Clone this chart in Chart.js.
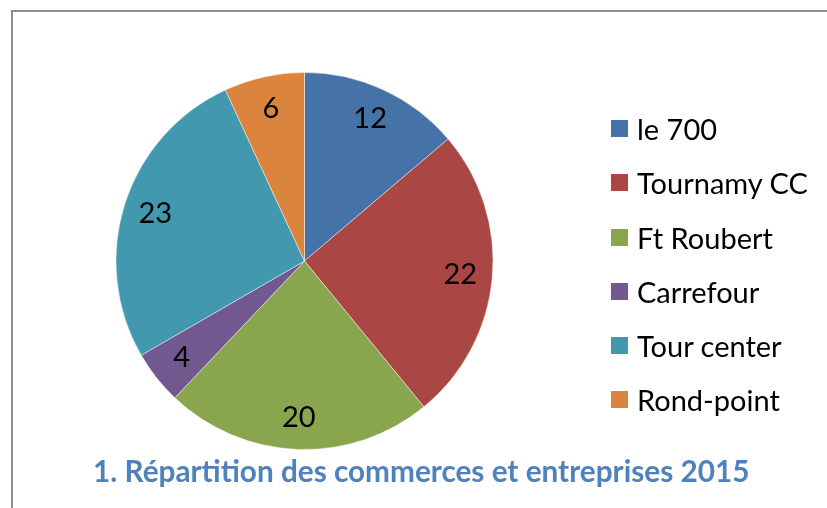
<!DOCTYPE html>
<html>
<head>
<meta charset="utf-8">
<script src="https://cdn.jsdelivr.net/npm/chart.js@4.4.1/dist/chart.umd.min.js"></script>
<style>
    html, body { margin: 0; padding: 0; background: #fff; }
    body { width: 827px; height: 508px; position: relative; overflow: hidden; }
    #frame {
        position: absolute; left: 11px; top: 10px; width: 900px; height: 600px;
        border: 2px solid #8e8e8e; box-sizing: border-box;
    }
    #chart { position: absolute; left: 0; top: 0; }
    #legend { position: absolute; left: 611px; top: 0; font-family: Lato, sans-serif; font-size: 29px; color: #000; }
    .legend-item { position: absolute; left: 0; white-space: nowrap; display: flex; align-items: center; height: 30px; }
    .legend-box { width: 17px; height: 17px; margin-right: 9px; }
    #title {
        position: absolute; left: 421px; top: 455px; white-space: nowrap; line-height: 30px;
        font-family: Lato, sans-serif; font-weight: bold; font-size: 30px; color: #4f81bd;
        transform-origin: 0 0;
    }
</style>
</head>
<body>
<div id="frame"></div>
<canvas id="chart" width="827" height="508"></canvas>
<div id="legend"></div>
<div id="title">1. Répartition des commerces et entreprises 2015</div>
<script>
const labels = ['le 700', 'Tournamy CC', 'Ft Roubert', 'Carrefour', 'Tour center', 'Rond-point'];
const values = [12, 22, 20, 4, 23, 6];
const colors = ['#4572a7', '#aa4643', '#89a54e', '#71588f', '#4198af', '#db843d'];

// draws the value in each slice
const sliceLabels = {
    id: 'sliceLabels',
    afterDatasetsDraw(chart) {
        const ctx = chart.ctx;
        const meta = chart.getDatasetMeta(0);
        ctx.save();
        ctx.font = '29px Lato, sans-serif';
        ctx.fillStyle = '#000';
        ctx.textAlign = 'center';
        ctx.textBaseline = 'middle';
        meta.data.forEach((arc, i) => {
            const mid = (arc.startAngle + arc.endAngle) / 2;
            const r = arc.outerRadius * 0.83;
            ctx.fillText(String(values[i]), arc.x + Math.cos(mid) * r, arc.y + Math.sin(mid) * r);
        });
        ctx.restore();
    }
};

const chart = new Chart(document.getElementById('chart'), {
    type: 'pie',
    data: {
        labels: labels,
        datasets: [{
            data: values,
            backgroundColor: colors,
            borderColor: 'rgba(255,255,255,0.45)',
            borderWidth: 1
        }]
    },
    options: {
        responsive: false,
        animation: false,
        layout: { padding: { left: 113, top: 72, right: 331, bottom: 58 } },
        plugins: {
            legend: { display: false },
            tooltip: { enabled: false }
        }
    },
    plugins: [sliceLabels]
});

const legendDiv = document.getElementById('legend');
const legendItems = chart.options.plugins.legend.labels.generateLabels(chart);
const legendCenters = [128, 182, 237, 291, 345, 399];
legendItems.forEach((item, i) => {
    const row = document.createElement('div');
    row.className = 'legend-item';
    row.style.top = (legendCenters[i] - 15) + 'px';
    const box = document.createElement('span');
    box.className = 'legend-box';
    box.style.background = item.fillStyle;
    const text = document.createElement('span');
    text.textContent = item.text;
    row.appendChild(box);
    row.appendChild(text);
    legendDiv.appendChild(row);
});

// fit the title to the width it has in the original
const title = document.getElementById('title');
const sx = 656 / title.offsetWidth;
title.style.transform = 'translateX(-328px) scaleX(' + sx + ')';
</script>
</body>
</html>
